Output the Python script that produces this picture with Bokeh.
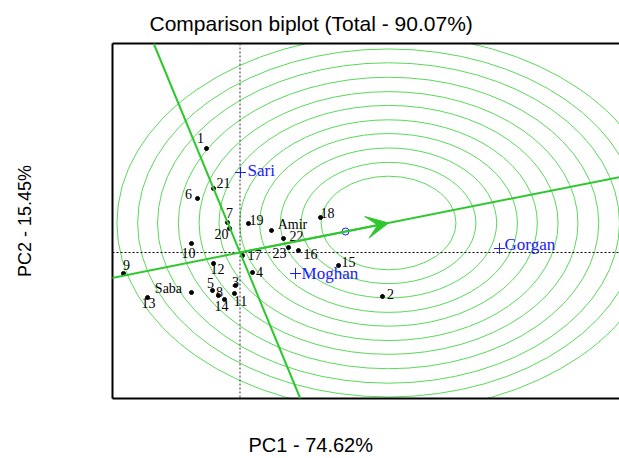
from bokeh.plotting import figure
from bokeh.models import (ColumnDataSource, Slope, Span, Arrow, VeeHead,
                          LinearAxis, FixedTicker, Title)
from bokeh.core.properties import value
from bokeh.embed import file_html
from bokeh.resources import INLINE

# ---------------- data ----------------
genotypes = ["1", "2", "3", "4", "5", "6", "7", "8", "9", "10", "11", "12",
             "13", "14", "15", "16", "17", "18", "19", "20", "21", "22", "23",
             "Amir", "Saba"]
g_pc1 = [-0.387, 1.647, -0.052, 0.145, -0.318, -0.491, -0.145, -0.249, -1.347,
         -0.561, -0.064, -0.306, -1.069, -0.179, 1.139, 0.676, 0.029, 0.931,
         0.098, -0.121, -0.306, 0.503, 0.561, 0.364, -0.561]
g_pc2 = [1.733, -0.733, -0.550, -0.333, -0.633, 0.900, 0.500, -0.717, -0.350,
         0.150, -0.683, -0.183, -0.750, -0.783, -0.217, 0.033, -0.050, 0.583,
         0.483, 0.400, 1.067, 0.233, 0.083, 0.367, -0.667]

environments = ["Sari", "Moghan", "Gorgan"]
e_pc1 = [0.006, 0.642, 3.000]
e_pc2 = [1.333, -0.350, 0.067]

average_env = (1.220, 0.350)       # small blue circle
ideal_genotype = (1.717, 0.492)    # arrow tip / centre of rings
ring_radii = [0.78, 1.01, 1.25, 1.49, 1.72, 1.96, 2.19, 2.43, 2.67, 2.90, 3.14]

title_text = "Comparison biplot (Total - 90.07%)"
x_label = "PC1 - 74.62%"
y_label = "PC2 - 15.45%"

# label placement (pixels, screen offsets of label centre from its point)
g_dx = [-6, 8, 0, 7, -2, -9, 2, 1, 3, -3, 6, 4, 1, -3, 10, 12, 12, 7, 8, -8, 10, 13, -9, 21, -23]
g_dy = [-11, -2, -4, 0, -7, -4, -10, -4, -9, 9, 8, 6, 5, 7, -4, 3, -1, -5, -4, 5, -5, -3, 5, -6, -4]
e_dx = [7, 6, 5]
e_dy = [-2, 0, -4]

# ---------------- figure ----------------
p = figure(width=619, height=458, x_range=(-1.474, 4.387), y_range=(-2.433, 3.483),
           output_backend="svg", toolbar_location=None, title=None,
           x_axis_type=None, y_axis_type=None,
           min_border_left=112, min_border_right=0, min_border_top=43,
           min_border_bottom=60)
p.outline_line_color = None
p.background_fill_color = "white"
p.border_fill_color = "white"


def frame_axis(**kw):
    return LinearAxis(ticker=FixedTicker(ticks=[]), axis_line_color="black",
                      axis_line_width=2, major_tick_line_color=None,
                      minor_tick_line_color=None,
                      major_label_text_font_size="0px", **kw)


p.add_layout(frame_axis(axis_label=y_label, axis_label_standoff=78,
                        axis_label_text_font_size="18px",
                        axis_label_text_font="Liberation Sans",
                        axis_label_text_font_style="normal",
                        axis_label_text_color="black"), "left")
p.add_layout(frame_axis(), "below")
p.add_layout(frame_axis(), "above")

p.add_layout(Title(text=title_text, align="left", offset=37, standoff=0,
                   vertical_align="bottom",
                   padding=dict(left=0, right=0, top=0, bottom=9),
                   text_font="Liberation Sans", text_font_size="21px",
                   text_font_style="normal", text_color="black"), "above")
p.add_layout(Title(text=x_label, align="left", offset=136, standoff=0,
                   vertical_align="top",
                   padding=dict(left=0, right=0, top=35, bottom=0),
                   text_font="Liberation Sans", text_font_size="20px",
                   text_font_style="normal", text_color="black"), "below")

# rings around the ideal genotype
cx, cy = ideal_genotype
ring_src = ColumnDataSource(dict(x=[cx] * len(ring_radii), y=[cy] * len(ring_radii),
                                 w=[2 * r for r in ring_radii], h=[2 * r for r in ring_radii]))
p.ellipse(x="x", y="y", width="w", height="h", source=ring_src,
          fill_color=None, line_color="#5ad85a", line_width=1)

# origin dotted lines
p.add_layout(Span(location=0, dimension="width", line_color="black",
                  line_dash="2 2", line_width=1))
p.add_layout(Span(location=0, dimension="height", line_color="#333333",
                  line_dash="2 2", line_width=1))

# average environment axis and its perpendicular
green = "#2ec82e"
p.add_layout(Slope(gradient=cy / cx, y_intercept=0, line_color=green, line_width=2))
p.add_layout(Slope(gradient=-cx / cy, y_intercept=0, line_color=green, line_width=2))
p.add_layout(Arrow(end=VeeHead(size=22, fill_color=green, line_color=green),
                   x_start=0, y_start=0, x_end=cx, y_end=cy,
                   line_color=green, line_width=2))

# genotypes
g_src = ColumnDataSource(dict(x=g_pc1, y=g_pc2, t=genotypes, dx=g_dx, dy=g_dy))
p.scatter(x="x", y="y", source=g_src, size=4, color="black")
p.text(x="x", y="y", text="t", x_offset="dx", y_offset="dy", source=g_src,
       text_font=value("Liberation Serif"), text_font_size="14px",
       text_align="center", text_baseline="middle", text_color="black")

# environments
e_src = ColumnDataSource(dict(x=e_pc1, y=e_pc2, t=environments, dx=e_dx, dy=e_dy))
p.scatter(x="x", y="y", source=e_src, marker="cross", size=11,
          line_color="#1a1aff", line_width=1)
p.text(x="x", y="y", text="t", x_offset="dx", y_offset="dy", source=e_src,
       text_font=value("Liberation Serif"), text_font_size="17px",
       text_align="left", text_baseline="middle", text_color="#1a1aff")

p.scatter(x=[average_env[0]], y=[average_env[1]], marker="circle", size=7,
          fill_color=None, line_color="#1a1aff", line_width=1)

with open("out.html", "w") as f:
    f.write(file_html(p, INLINE))
